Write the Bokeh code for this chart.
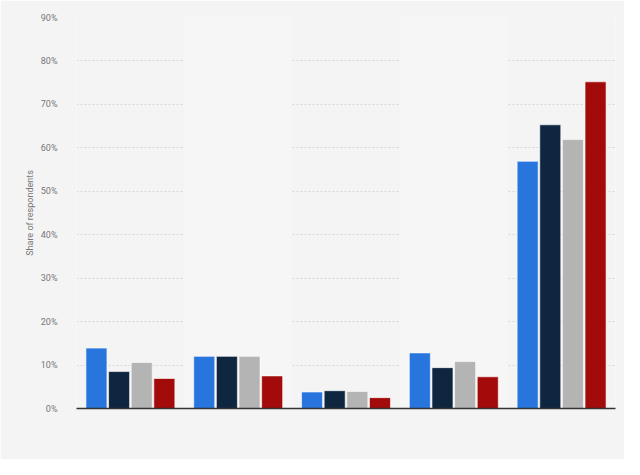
from bokeh.plotting import figure
from bokeh.models import ColumnDataSource, BoxAnnotation, FixedTicker, Range1d, CustomJSTickFormatter
from bokeh.embed import file_html
from bokeh.resources import INLINE
from bokeh.transform import dodge

groups = ["A", "B", "C", "D", "E"]
series_names = ["Series 1", "Series 2", "Series 3", "Series 4"]
s1 = [13.9, 12.0, 3.8, 12.8, 56.9]
s2 = [8.5, 12.0, 4.1, 9.4, 65.3]
s3 = [10.6, 12.0, 3.9, 10.8, 61.9]
s4 = [6.9, 7.5, 2.5, 7.3, 75.2]
colors = ["#2876dd", "#0f2640", "#b4b4b4", "#a30a0a"]
y_ticks = [0, 10, 20, 30, 40, 50, 60, 70, 80, 90]

xs = list(range(len(groups)))
source = ColumnDataSource(dict(x=xs, s1=s1, s2=s2, s3=s3, s4=s4))

p = figure(width=624, height=459, output_backend="svg", toolbar_location=None,
           x_range=Range1d(-0.5, len(groups) - 0.5), y_range=Range1d(0, 90),
           min_border_left=76, min_border_right=9, min_border_top=17, min_border_bottom=51)
p.background_fill_color = "#f4f4f4"
p.border_fill_color = "#f4f4f4"
p.outline_line_color = None

for i in range(len(groups)):
    if i % 2 == 1:
        p.add_layout(BoxAnnotation(left=i - 0.5, right=i + 0.5, fill_color="#f6f6f6",
                                   fill_alpha=1, line_color=None, level="underlay"))

bw = 0.195
offsets = [-0.315, -0.105, 0.105, 0.315]
for key, off, c in zip(["s1", "s2", "s3", "s4"], offsets, colors):
    p.vbar(x=dodge("x", off), top=key, width=bw, source=source, fill_color=c,
           line_color="#ffffff", line_alpha=0.6, line_width=1)

p.xaxis.ticker = FixedTicker(ticks=[])
p.xaxis.major_tick_line_color = None
p.xaxis.minor_tick_line_color = None
p.xaxis.axis_line_color = "#333333"
p.xaxis.axis_line_width = 1.5
p.xgrid.grid_line_color = None

p.yaxis.ticker = FixedTicker(ticks=y_ticks)
p.yaxis.formatter = CustomJSTickFormatter(code="return tick + '%';")
p.yaxis.axis_line_color = None
p.yaxis.major_tick_line_color = None
p.yaxis.minor_tick_line_color = None
p.yaxis.major_label_text_font = "Roboto"
p.yaxis.major_label_text_font_size = "9px"
p.yaxis.major_label_text_color = "#777777"
p.yaxis.major_label_standoff = 13
p.yaxis.axis_label = "Share of respondents"
p.yaxis.axis_label_text_font = "Roboto"
p.yaxis.axis_label_text_font_style = "normal"
p.yaxis.axis_label_text_font_size = "9px"
p.yaxis.axis_label_text_color = "#777777"
p.yaxis.axis_label_standoff = 3
p.ygrid.grid_line_color = "#d8d8d8"
p.ygrid.grid_line_dash = "2 2"
p.ygrid.grid_line_width = 1

html = file_html(p, INLINE)
html = html.replace("<body>", '<body style="background:#f4f4f4">', 1)
open("out.html", "w").write(html)
